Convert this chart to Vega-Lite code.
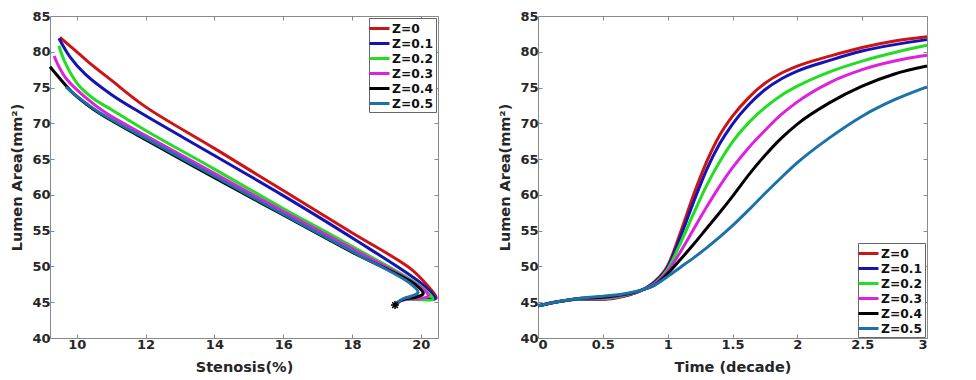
{
  "$schema": "https://vega.github.io/schema/vega-lite/v6.json",
  "background": "white",
  "padding": {"left": 9, "top": 9, "right": 5, "bottom": 5},
  "config": {
    "font": "DejaVu Sans",
    "view": {"stroke": "#8a8a8a", "strokeWidth": 1},
    "axis": {
      "grid": false, "domain": false, "ticks": true, "tickSize": -4, "tickColor": "#8a8a8a",
      "labelFont": "DejaVu Sans", "labelFontSize": 13, "labelFontWeight": "bold", "labelColor": "#262626", "labelPadding": 4,
      "titleFont": "DejaVu Sans", "titleFontSize": 14.5, "titleFontWeight": "bold", "titleColor": "#262626"
    },
    "axisX": {"titlePadding": 9},
    "axisY": {"titlePadding": 7},
    "legend": {
      "orient": "none", "strokeColor": "#666", "fillColor": "white", "padding": 2,
      "symbolType": "M-1.45,0L1.45,0", "symbolSize": 190, "symbolStrokeWidth": 3,
      "labelFont": "DejaVu Sans", "labelFontSize": 12.3, "labelFontWeight": "bold", "labelColor": "#111", "labelOffset": 4,
      "rowPadding": 0, "title": null
    }
  },
  "datasets": {
    "sten": [
      {"z":"Z=0","i":0,"s":19.25,"a":44.6},{"z":"Z=0","i":1,"s":19.4,"a":45.2},{"z":"Z=0","i":2,"s":19.6,"a":45.45},{"z":"Z=0","i":3,"s":19.9,"a":45.5},{"z":"Z=0","i":4,"s":20.2,"a":45.5},{"z":"Z=0","i":5,"s":20.45,"a":45.6},{"z":"Z=0","i":6,"s":20.2,"a":47.3},{"z":"Z=0","i":7,"s":19.7,"a":49.7},{"z":"Z=0","i":8,"s":18,"a":54.7},{"z":"Z=0","i":9,"s":16,"a":60.6},{"z":"Z=0","i":10,"s":14,"a":66.5},{"z":"Z=0","i":11,"s":12,"a":72.3},{"z":"Z=0","i":12,"s":11.01,"a":76.0},{"z":"Z=0","i":13,"s":10.33,"a":78.6},{"z":"Z=0","i":14,"s":9.9,"a":80.4},{"z":"Z=0","i":15,"s":9.51,"a":82.0},
      {"z":"Z=0.1","i":0,"s":19.25,"a":44.6},{"z":"Z=0.1","i":1,"s":19.4,"a":45.2},{"z":"Z=0.1","i":2,"s":19.6,"a":45.45},{"z":"Z=0.1","i":3,"s":19.9,"a":45.45},{"z":"Z=0.1","i":4,"s":20.2,"a":45.4},{"z":"Z=0.1","i":5,"s":20.42,"a":45.5},{"z":"Z=0.1","i":6,"s":20.1,"a":47.3},{"z":"Z=0.1","i":7,"s":18,"a":54.0},{"z":"Z=0.1","i":8,"s":16,"a":59.9},{"z":"Z=0.1","i":9,"s":14,"a":65.5},{"z":"Z=0.1","i":10,"s":11.88,"a":71.4},{"z":"Z=0.1","i":11,"s":11.01,"a":74.0},{"z":"Z=0.1","i":12,"s":10.26,"a":76.8},{"z":"Z=0.1","i":13,"s":9.8,"a":79.3},{"z":"Z=0.1","i":14,"s":9.48,"a":81.9},
      {"z":"Z=0.2","i":0,"s":19.25,"a":44.6},{"z":"Z=0.2","i":1,"s":19.4,"a":45.2},{"z":"Z=0.2","i":2,"s":19.6,"a":45.45},{"z":"Z=0.2","i":3,"s":19.9,"a":45.4},{"z":"Z=0.2","i":4,"s":20.35,"a":45.4},{"z":"Z=0.2","i":5,"s":20.0,"a":47.2},{"z":"Z=0.2","i":6,"s":18,"a":52.8},{"z":"Z=0.2","i":7,"s":16,"a":58.1},{"z":"Z=0.2","i":8,"s":14,"a":63.6},{"z":"Z=0.2","i":9,"s":12,"a":69.0},{"z":"Z=0.2","i":10,"s":11.01,"a":71.9},{"z":"Z=0.2","i":11,"s":10.5,"a":73.4},{"z":"Z=0.2","i":12,"s":10.04,"a":75.4},{"z":"Z=0.2","i":13,"s":9.65,"a":78.6},{"z":"Z=0.2","i":14,"s":9.48,"a":80.85},
      {"z":"Z=0.3","i":0,"s":19.25,"a":44.6},{"z":"Z=0.3","i":1,"s":19.4,"a":45.2},{"z":"Z=0.3","i":2,"s":19.6,"a":45.45},{"z":"Z=0.3","i":3,"s":19.9,"a":45.5},{"z":"Z=0.3","i":4,"s":20.22,"a":45.9},{"z":"Z=0.3","i":5,"s":19.9,"a":47.4},{"z":"Z=0.3","i":6,"s":18,"a":52.5},{"z":"Z=0.3","i":7,"s":16,"a":57.7},{"z":"Z=0.3","i":8,"s":14,"a":63.0},{"z":"Z=0.3","i":9,"s":12,"a":68.3},{"z":"Z=0.3","i":10,"s":10.86,"a":71.4},{"z":"Z=0.3","i":11,"s":10.33,"a":73.3},{"z":"Z=0.3","i":12,"s":9.7,"a":76.2},{"z":"Z=0.3","i":13,"s":9.45,"a":78.2},{"z":"Z=0.3","i":14,"s":9.34,"a":79.4},
      {"z":"Z=0.4","i":0,"s":19.25,"a":44.6},{"z":"Z=0.4","i":1,"s":19.4,"a":45.2},{"z":"Z=0.4","i":2,"s":19.6,"a":45.5},{"z":"Z=0.4","i":3,"s":19.85,"a":45.7},{"z":"Z=0.4","i":4,"s":20.07,"a":46.2},{"z":"Z=0.4","i":5,"s":19.8,"a":47.6},{"z":"Z=0.4","i":6,"s":18,"a":52.0},{"z":"Z=0.4","i":7,"s":16,"a":57.2},{"z":"Z=0.4","i":8,"s":14,"a":62.4},{"z":"Z=0.4","i":9,"s":12,"a":67.7},{"z":"Z=0.4","i":10,"s":10.69,"a":71.3},{"z":"Z=0.4","i":11,"s":10.3,"a":72.6},{"z":"Z=0.4","i":12,"s":9.85,"a":74.4},{"z":"Z=0.4","i":13,"s":9.5,"a":76.3},{"z":"Z=0.4","i":14,"s":9.22,"a":77.9},
      {"z":"Z=0.5","i":0,"s":19.25,"a":44.6},{"z":"Z=0.5","i":1,"s":19.4,"a":45.25},{"z":"Z=0.5","i":2,"s":19.55,"a":45.6},{"z":"Z=0.5","i":3,"s":19.7,"a":45.8},{"z":"Z=0.5","i":4,"s":19.92,"a":46.4},{"z":"Z=0.5","i":5,"s":19.7,"a":47.6},{"z":"Z=0.5","i":6,"s":18,"a":52.1},{"z":"Z=0.5","i":7,"s":16,"a":57.3},{"z":"Z=0.5","i":8,"s":14,"a":62.6},{"z":"Z=0.5","i":9,"s":12,"a":67.9},{"z":"Z=0.5","i":10,"s":10.69,"a":71.4},{"z":"Z=0.5","i":11,"s":10.0,"a":73.8},{"z":"Z=0.5","i":12,"s":9.68,"a":75.1}
    ],
    "marker": [{"s": 19.25, "a": 44.6}],
    "time": [
      {"z":"Z=0","t":0,"a":44.5},{"z":"Z=0","t":0.1,"a":44.9},{"z":"Z=0","t":0.2,"a":45.2},{"z":"Z=0","t":0.3,"a":45.4},{"z":"Z=0","t":0.4,"a":45.4},{"z":"Z=0","t":0.5,"a":45.4},{"z":"Z=0","t":0.6,"a":45.6},{"z":"Z=0","t":0.7,"a":46.0},{"z":"Z=0","t":0.8,"a":46.7},{"z":"Z=0","t":0.9,"a":47.9},{"z":"Z=0","t":1.0,"a":50.1},{"z":"Z=0","t":1.1,"a":54.8},{"z":"Z=0","t":1.2,"a":60.0},{"z":"Z=0","t":1.3,"a":64.6},{"z":"Z=0","t":1.4,"a":68.3},{"z":"Z=0","t":1.5,"a":71.0},{"z":"Z=0","t":1.625,"a":73.6},{"z":"Z=0","t":1.75,"a":75.6},{"z":"Z=0","t":1.875,"a":77.0},{"z":"Z=0","t":2.0,"a":78.0},{"z":"Z=0","t":2.25,"a":79.4},{"z":"Z=0","t":2.5,"a":80.6},{"z":"Z=0","t":2.75,"a":81.5},{"z":"Z=0","t":3.0,"a":82.1},
      {"z":"Z=0.1","t":0,"a":44.5},{"z":"Z=0.1","t":0.1,"a":44.9},{"z":"Z=0.1","t":0.2,"a":45.2},{"z":"Z=0.1","t":0.3,"a":45.4},{"z":"Z=0.1","t":0.4,"a":45.45},{"z":"Z=0.1","t":0.5,"a":45.45},{"z":"Z=0.1","t":0.6,"a":45.65},{"z":"Z=0.1","t":0.7,"a":46.05},{"z":"Z=0.1","t":0.8,"a":46.7},{"z":"Z=0.1","t":0.9,"a":47.8},{"z":"Z=0.1","t":1.0,"a":49.9},{"z":"Z=0.1","t":1.1,"a":54.2},{"z":"Z=0.1","t":1.2,"a":59.0},{"z":"Z=0.1","t":1.3,"a":63.5},{"z":"Z=0.1","t":1.4,"a":67.1},{"z":"Z=0.1","t":1.5,"a":69.9},{"z":"Z=0.1","t":1.625,"a":72.6},{"z":"Z=0.1","t":1.75,"a":74.7},{"z":"Z=0.1","t":1.875,"a":76.2},{"z":"Z=0.1","t":2.0,"a":77.3},{"z":"Z=0.1","t":2.25,"a":78.8},{"z":"Z=0.1","t":2.5,"a":80.1},{"z":"Z=0.1","t":2.75,"a":81.0},{"z":"Z=0.1","t":3.0,"a":81.7},
      {"z":"Z=0.2","t":0,"a":44.5},{"z":"Z=0.2","t":0.1,"a":44.9},{"z":"Z=0.2","t":0.2,"a":45.2},{"z":"Z=0.2","t":0.3,"a":45.45},{"z":"Z=0.2","t":0.4,"a":45.5},{"z":"Z=0.2","t":0.5,"a":45.5},{"z":"Z=0.2","t":0.6,"a":45.7},{"z":"Z=0.2","t":0.7,"a":46.1},{"z":"Z=0.2","t":0.8,"a":46.7},{"z":"Z=0.2","t":0.9,"a":47.6},{"z":"Z=0.2","t":1.0,"a":49.6},{"z":"Z=0.2","t":1.1,"a":53.3},{"z":"Z=0.2","t":1.2,"a":57.4},{"z":"Z=0.2","t":1.3,"a":61.3},{"z":"Z=0.2","t":1.4,"a":64.6},{"z":"Z=0.2","t":1.5,"a":67.4},{"z":"Z=0.2","t":1.625,"a":70.1},{"z":"Z=0.2","t":1.75,"a":72.2},{"z":"Z=0.2","t":1.875,"a":73.9},{"z":"Z=0.2","t":2.0,"a":75.2},{"z":"Z=0.2","t":2.25,"a":77.2},{"z":"Z=0.2","t":2.5,"a":78.7},{"z":"Z=0.2","t":2.75,"a":79.9},{"z":"Z=0.2","t":3.0,"a":80.9},
      {"z":"Z=0.3","t":0,"a":44.5},{"z":"Z=0.3","t":0.1,"a":44.9},{"z":"Z=0.3","t":0.2,"a":45.2},{"z":"Z=0.3","t":0.3,"a":45.45},{"z":"Z=0.3","t":0.4,"a":45.55},{"z":"Z=0.3","t":0.5,"a":45.6},{"z":"Z=0.3","t":0.6,"a":45.8},{"z":"Z=0.3","t":0.7,"a":46.15},{"z":"Z=0.3","t":0.8,"a":46.7},{"z":"Z=0.3","t":0.9,"a":47.5},{"z":"Z=0.3","t":1.0,"a":49.3},{"z":"Z=0.3","t":1.1,"a":52.1},{"z":"Z=0.3","t":1.2,"a":55.2},{"z":"Z=0.3","t":1.3,"a":58.3},{"z":"Z=0.3","t":1.4,"a":61.2},{"z":"Z=0.3","t":1.5,"a":63.8},{"z":"Z=0.3","t":1.625,"a":66.6},{"z":"Z=0.3","t":1.75,"a":69.0},{"z":"Z=0.3","t":1.875,"a":71.2},{"z":"Z=0.3","t":2.0,"a":73.0},{"z":"Z=0.3","t":2.25,"a":75.7},{"z":"Z=0.3","t":2.5,"a":77.5},{"z":"Z=0.3","t":2.75,"a":78.7},{"z":"Z=0.3","t":3.0,"a":79.5},
      {"z":"Z=0.4","t":0,"a":44.5},{"z":"Z=0.4","t":0.1,"a":44.9},{"z":"Z=0.4","t":0.2,"a":45.2},{"z":"Z=0.4","t":0.3,"a":45.5},{"z":"Z=0.4","t":0.4,"a":45.6},{"z":"Z=0.4","t":0.5,"a":45.7},{"z":"Z=0.4","t":0.6,"a":45.9},{"z":"Z=0.4","t":0.7,"a":46.2},{"z":"Z=0.4","t":0.8,"a":46.7},{"z":"Z=0.4","t":0.9,"a":47.4},{"z":"Z=0.4","t":1.0,"a":49.0},{"z":"Z=0.4","t":1.1,"a":51.0},{"z":"Z=0.4","t":1.2,"a":53.1},{"z":"Z=0.4","t":1.3,"a":55.3},{"z":"Z=0.4","t":1.4,"a":57.5},{"z":"Z=0.4","t":1.5,"a":59.8},{"z":"Z=0.4","t":1.625,"a":62.8},{"z":"Z=0.4","t":1.75,"a":65.5},{"z":"Z=0.4","t":1.875,"a":67.9},{"z":"Z=0.4","t":2.0,"a":69.9},{"z":"Z=0.4","t":2.25,"a":72.9},{"z":"Z=0.4","t":2.5,"a":75.2},{"z":"Z=0.4","t":2.75,"a":76.9},{"z":"Z=0.4","t":3.0,"a":78.0},
      {"z":"Z=0.5","t":0,"a":44.5},{"z":"Z=0.5","t":0.1,"a":44.9},{"z":"Z=0.5","t":0.2,"a":45.25},{"z":"Z=0.5","t":0.3,"a":45.5},{"z":"Z=0.5","t":0.4,"a":45.7},{"z":"Z=0.5","t":0.5,"a":45.85},{"z":"Z=0.5","t":0.6,"a":46.0},{"z":"Z=0.5","t":0.7,"a":46.3},{"z":"Z=0.5","t":0.8,"a":46.7},{"z":"Z=0.5","t":0.9,"a":47.4},{"z":"Z=0.5","t":1.0,"a":48.6},{"z":"Z=0.5","t":1.1,"a":49.9},{"z":"Z=0.5","t":1.2,"a":51.2},{"z":"Z=0.5","t":1.3,"a":52.6},{"z":"Z=0.5","t":1.4,"a":54.1},{"z":"Z=0.5","t":1.5,"a":55.7},{"z":"Z=0.5","t":1.625,"a":57.9},{"z":"Z=0.5","t":1.75,"a":60.2},{"z":"Z=0.5","t":1.875,"a":62.4},{"z":"Z=0.5","t":2.0,"a":64.5},{"z":"Z=0.5","t":2.25,"a":68.0},{"z":"Z=0.5","t":2.5,"a":71.0},{"z":"Z=0.5","t":2.75,"a":73.3},{"z":"Z=0.5","t":3.0,"a":75.1}
    ]
  },
  "spacing": 100,
  "bounds": "flush",
  "resolve": {"legend": {"color": "independent"}},
  "hconcat": [
    {
      "width": 388, "height": 322,
      "layer": [
        {
          "data": {"name": "sten"},
          "mark": {"type": "line", "strokeWidth": 3, "interpolate": "catmull-rom"},
          "encoding": {
            "x": {"field": "s", "type": "quantitative", "scale": {"domain": [9.22, 20.5], "nice": false, "zero": false},
                  "axis": {"orient": "bottom", "values": [10, 12, 14, 16, 18, 20], "title": "Stenosis(%)"}},
            "y": {"field": "a", "type": "quantitative", "scale": {"domain": [40, 85], "nice": false, "zero": false},
                  "axis": {"orient": "left", "values": [40, 45, 50, 55, 60, 65, 70, 75, 80, 85], "title": "Lumen Area(mm²)"}},
            "color": {"field": "z", "type": "nominal",
                      "scale": {"domain": ["Z=0", "Z=0.1", "Z=0.2", "Z=0.3", "Z=0.4", "Z=0.5"], "range": ["#cc1414", "#1414b4", "#22dd22", "#dd22dd", "#000000", "#1a72a6"]},
                      "legend": {"legendX": 319, "legendY": 2}},
            "order": {"field": "i", "type": "quantitative"}
          }
        },
        {
          "data": {"name": "marker"},
          "mark": {"type": "point", "shape": "M-1,0L1,0M0,-1L0,1M-0.7,-0.7L0.7,0.7M-0.7,0.7L0.7,-0.7", "filled": false, "stroke": "#000", "strokeWidth": 1.5, "size": 64, "opacity": 1},
          "encoding": {
            "x": {"field": "s", "type": "quantitative", "axis": {"orient": "top", "labels": false, "title": null, "values": [10, 12, 14, 16, 18, 20]}},
            "y": {"field": "a", "type": "quantitative", "axis": {"orient": "right", "labels": false, "title": null, "values": [40, 45, 50, 55, 60, 65, 70, 75, 80, 85]}}
          }
        }
      ]
    },
    {
      "width": 389, "height": 322,
      "layer": [
        {
          "data": {"name": "time"},
          "mark": {"type": "line", "strokeWidth": 3, "interpolate": "monotone"},
          "encoding": {
            "x": {"field": "t", "type": "quantitative", "scale": {"domain": [0, 3], "nice": false, "zero": false},
                  "axis": {"orient": "bottom", "values": [0, 0.5, 1, 1.5, 2, 2.5, 3], "format": "~g", "title": "Time (decade)"}},
            "y": {"field": "a", "type": "quantitative", "scale": {"domain": [40, 85], "nice": false, "zero": false},
                  "axis": {"orient": "left", "values": [40, 45, 50, 55, 60, 65, 70, 75, 80, 85], "title": "Lumen Area(mm²)"}},
            "color": {"field": "z", "type": "nominal",
                      "scale": {"domain": ["Z=0", "Z=0.1", "Z=0.2", "Z=0.3", "Z=0.4", "Z=0.5"], "range": ["#cc1414", "#1414b4", "#22dd22", "#dd22dd", "#000000", "#1a72a6"]},
                      "legend": {"legendX": 320, "legendY": 227}}
          }
        },
        {
          "data": {"name": "time"},
          "mark": {"type": "point", "opacity": 0},
          "encoding": {
            "x": {"field": "t", "type": "quantitative", "axis": {"orient": "top", "labels": false, "title": null, "values": [0, 0.5, 1, 1.5, 2, 2.5, 3]}},
            "y": {"field": "a", "type": "quantitative", "axis": {"orient": "right", "labels": false, "title": null, "values": [40, 45, 50, 55, 60, 65, 70, 75, 80, 85]}}
          }
        }
      ]
    }
  ]
}
